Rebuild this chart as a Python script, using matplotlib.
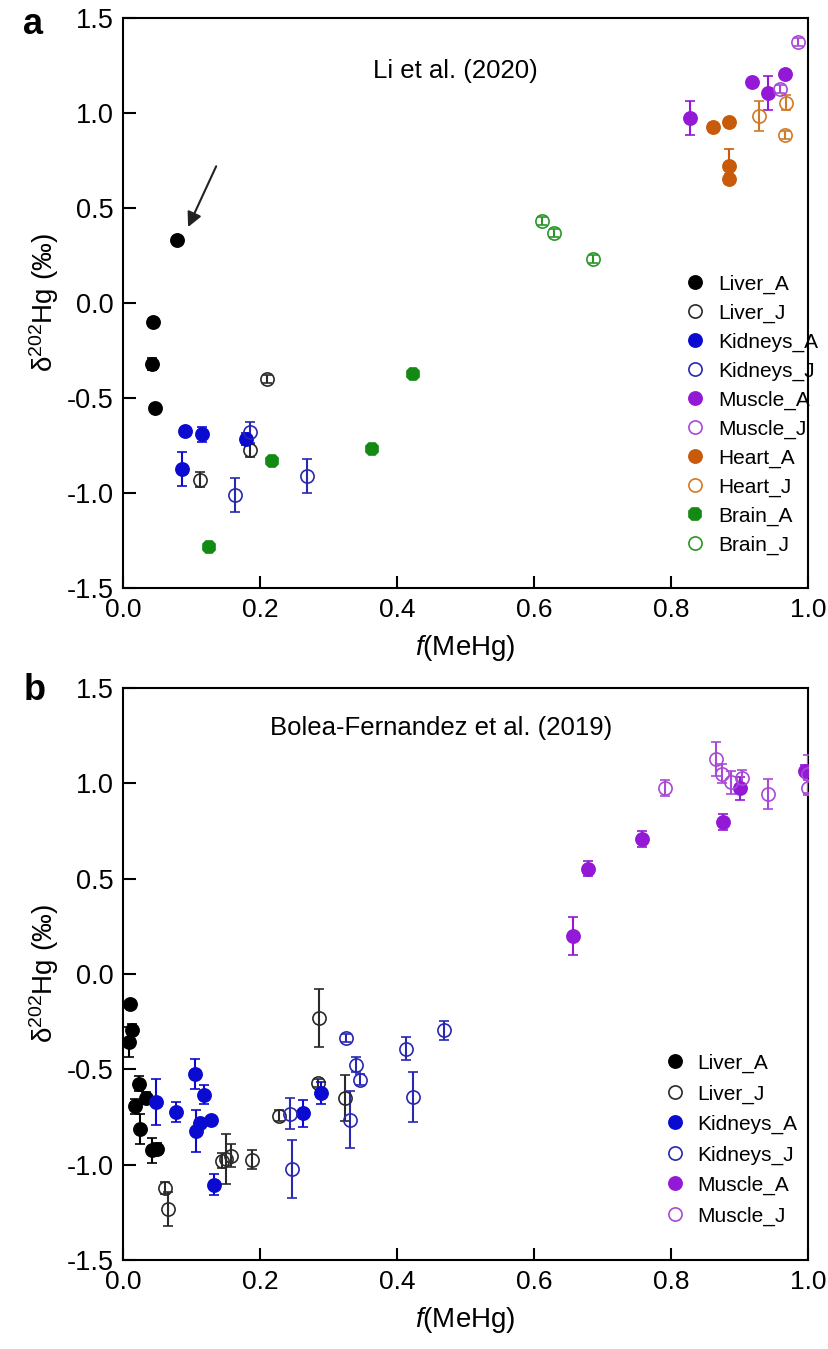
import matplotlib
matplotlib.use("Agg")
import matplotlib.pyplot as plt
from matplotlib.lines import Line2D

plt.rcParams['font.family'] = ['Liberation Sans', 'DejaVu Sans']
plt.rcParams['mathtext.fontset'] = 'custom'
plt.rcParams['mathtext.rm'] = 'Liberation Sans'
plt.rcParams['mathtext.it'] = 'Liberation Sans:italic'
plt.rcParams['axes.unicode_minus'] = False

# =============================================================================
# DATA - panel a, Li et al. (2020)
# =============================================================================
A_LIVER_A_X = [0.079, 0.044, 0.042, 0.047]
A_LIVER_A_Y = [0.33, -0.10, -0.32, -0.55]
A_LIVER_A_E = [0.0, 0.02, 0.03, 0.02]

A_LIVER_J_X = [0.210, 0.186, 0.112]
A_LIVER_J_Y = [-0.40, -0.775, -0.93]
A_LIVER_J_E = [0.02, 0.035, 0.04]

A_KIDNEYS_A_X = [0.090, 0.115, 0.086, 0.180]
A_KIDNEYS_A_Y = [-0.672, -0.69, -0.872, -0.715]
A_KIDNEYS_A_E = [0.0, 0.04, 0.09, 0.03]

A_KIDNEYS_J_X = [0.185, 0.164, 0.269]
A_KIDNEYS_J_Y = [-0.68, -1.012, -0.912]
A_KIDNEYS_J_E = [0.056, 0.09, 0.09]

A_MUSCLE_A_X = [0.827, 0.918, 0.942, 0.967]
A_MUSCLE_A_Y = [0.975, 1.165, 1.104, 1.207]
A_MUSCLE_A_E = [0.09, 0.0, 0.09, 0.0]

A_MUSCLE_J_X = [0.986, 0.959]
A_MUSCLE_J_Y = [1.375, 1.126]
A_MUSCLE_J_E = [0.02, 0.02]

A_HEART_A_X = [0.862, 0.884, 0.884, 0.884]
A_HEART_A_Y = [0.925, 0.954, 0.723, 0.653]
A_HEART_A_E = [0.025, 0.02, 0.09, 0.025]

A_HEART_J_X = [0.929, 0.968, 0.966]
A_HEART_J_Y = [0.984, 1.054, 0.886]
A_HEART_J_E = [0.08, 0.04, 0.02]

A_BRAIN_A_X = [0.125, 0.2175, 0.3635, 0.423]
A_BRAIN_A_Y = [-1.282, -0.83, -0.768, -0.374]
A_BRAIN_A_E = [0.02, 0.02, 0.02, 0.02]

A_BRAIN_J_X = [0.611, 0.629, 0.686]
A_BRAIN_J_Y = [0.432, 0.37, 0.232]
A_BRAIN_J_E = [0.02, 0.02, 0.02]

# arrow pointing at the outlier liver sample (tail, head)
ARROW_TAIL = (0.136, 0.72)
ARROW_HEAD = (0.095, 0.40)

# =============================================================================
# DATA - panel b, Bolea-Fernandez et al. (2019)
# =============================================================================
B_LIVER_A_X = [0.010, 0.013, 0.009, 0.024, 0.033, 0.017, 0.025, 0.042, 0.049]
B_LIVER_A_Y = [-0.156, -0.292, -0.357, -0.575, -0.65, -0.694, -0.813, -0.925, -0.916]
B_LIVER_A_E = [0.0, 0.03, 0.08, 0.04, 0.03, 0.04, 0.08, 0.065, 0.03]

B_LIVER_J_X = [0.061, 0.065, 0.145, 0.151, 0.157, 0.188, 0.228, 0.286, 0.285, 0.324]
B_LIVER_J_Y = [-1.122, -1.232, -0.979, -0.97, -0.953, -0.974, -0.743, -0.231, -0.572, -0.65]
B_LIVER_J_E = [0.03, 0.09, 0.04, 0.13, 0.06, 0.05, 0.03, 0.15, 0.02, 0.12]

B_KIDNEYS_A_X = [0.048, 0.077, 0.105, 0.118, 0.106, 0.112, 0.129, 0.133, 0.263, 0.289]
B_KIDNEYS_A_Y = [-0.673, -0.724, -0.524, -0.633, -0.825, -0.78, -0.764, -1.105, -0.73, -0.624]
B_KIDNEYS_A_E = [0.12, 0.05, 0.08, 0.05, 0.11, 0.0, 0.0, 0.055, 0.07, 0.06]

B_KIDNEYS_J_X = [0.244, 0.247, 0.325, 0.340, 0.346, 0.331, 0.413, 0.423, 0.469]
B_KIDNEYS_J_Y = [-0.733, -1.023, -0.336, -0.476, -0.554, -0.764, -0.393, -0.645, -0.296]
B_KIDNEYS_J_E = [0.08, 0.15, 0.02, 0.04, 0.03, 0.15, 0.06, 0.13, 0.05]

B_MUSCLE_A_X = [0.657, 0.679, 0.758, 0.876, 0.901, 0.995]
B_MUSCLE_A_Y = [0.20, 0.552, 0.708, 0.797, 0.975, 1.066]
B_MUSCLE_A_E = [0.1, 0.04, 0.04, 0.04, 0.06, 0.03]

B_MUSCLE_J_X = [0.791, 0.866, 0.875, 0.887, 0.903, 0.942, 1.0, 1.0]
B_MUSCLE_J_Y = [0.975, 1.127, 1.05, 1.005, 1.028, 0.945, 1.05, 0.977]
B_MUSCLE_J_E = [0.04, 0.09, 0.05, 0.06, 0.04, 0.08, 0.1, 0.04]

# =============================================================================
# STYLE
# =============================================================================
COLORS = {
    'Liver_A': '#000000', 'Liver_J': '#2a2a2a',
    'Kidneys_A': '#0a0ad0', 'Kidneys_J': '#2828b0',
    'Muscle_A': '#9419d6', 'Muscle_J': '#a84ad6',
    'Heart_A': '#c85a0a', 'Heart_J': '#d07a28',
    'Brain_A': '#138a13', 'Brain_J': '#2a962a',
}
MS = 9.5


def marker_style(name):
    c = COLORS[name]
    filled = name.endswith('_A')
    marker = '8' if name == 'Brain_A' else 'o'
    return dict(marker=marker, ms=MS, mfc=c if filled else 'none', mec=c, mew=1.2)


def plot_group(ax, name, xs, ys, es):
    c = COLORS[name]
    ax.errorbar(xs, ys, yerr=es, linestyle='none', **marker_style(name),
                ecolor=c, elinewidth=1.5, capsize=3.5, capthick=1.5, zorder=3)


def add_legend(ax, names, anchor, spacing):
    # legend shows the markers only, no error bars
    handles = [Line2D([], [], linestyle='none', **marker_style(n)) for n in names]
    ax.legend(handles, names, loc='upper left', bbox_to_anchor=anchor,
              frameon=False, fontsize=15, handlelength=1.0, handletextpad=0.6,
              labelspacing=spacing, borderpad=0.2)


def style_axes(ax):
    ax.set_xlim(0, 1.0)
    ax.set_ylim(-1.5, 1.5)
    ax.set_xticks([0.0, 0.2, 0.4, 0.6, 0.8, 1.0])
    ax.set_yticks([-1.5, -1.0, -0.5, 0.0, 0.5, 1.0, 1.5])
    ax.tick_params(direction='in', length=9, width=1.5)
    ax.tick_params(axis='x', labelsize=19, pad=7)
    ax.tick_params(axis='y', labelsize=19.5, pad=7)
    for spine in ax.spines.values():
        spine.set_linewidth(1.5)
    ax.set_xlabel(r'$\mathit{f}$(MeHg)', fontsize=20, labelpad=8)
    ax.set_ylabel(r'δ$^{\mathregular{202}}$Hg (‰)', fontsize=20, labelpad=4)


fig = plt.figure(figsize=(8.29, 13.49), dpi=100)
ax_a = fig.add_axes([0.1484, 0.5641, 0.8263, 0.4225])
ax_b = fig.add_axes([0.1484, 0.0660, 0.8263, 0.4240])

# panel a
plot_group(ax_a, 'Liver_A', A_LIVER_A_X, A_LIVER_A_Y, A_LIVER_A_E)
plot_group(ax_a, 'Liver_J', A_LIVER_J_X, A_LIVER_J_Y, A_LIVER_J_E)
plot_group(ax_a, 'Kidneys_A', A_KIDNEYS_A_X, A_KIDNEYS_A_Y, A_KIDNEYS_A_E)
plot_group(ax_a, 'Kidneys_J', A_KIDNEYS_J_X, A_KIDNEYS_J_Y, A_KIDNEYS_J_E)
plot_group(ax_a, 'Muscle_A', A_MUSCLE_A_X, A_MUSCLE_A_Y, A_MUSCLE_A_E)
plot_group(ax_a, 'Muscle_J', A_MUSCLE_J_X, A_MUSCLE_J_Y, A_MUSCLE_J_E)
plot_group(ax_a, 'Heart_A', A_HEART_A_X, A_HEART_A_Y, A_HEART_A_E)
plot_group(ax_a, 'Heart_J', A_HEART_J_X, A_HEART_J_Y, A_HEART_J_E)
plot_group(ax_a, 'Brain_A', A_BRAIN_A_X, A_BRAIN_A_Y, A_BRAIN_A_E)
plot_group(ax_a, 'Brain_J', A_BRAIN_J_X, A_BRAIN_J_Y, A_BRAIN_J_E)
ax_a.annotate('', xy=ARROW_HEAD, xytext=ARROW_TAIL,
              arrowprops=dict(arrowstyle='-|>', color='#222222', lw=1.5,
                              mutation_scale=22, shrinkA=0, shrinkB=0))
ax_a.text(0.485, 0.908, 'Li et al. (2020)', transform=ax_a.transAxes,
          ha='center', va='center', fontsize=18.5)
style_axes(ax_a)
add_legend(ax_a, ['Liver_A', 'Liver_J', 'Kidneys_A', 'Kidneys_J', 'Muscle_A',
                  'Muscle_J', 'Heart_A', 'Heart_J', 'Brain_A', 'Brain_J'],
           (0.799, 0.576), 0.47)

# panel b
plot_group(ax_b, 'Liver_A', B_LIVER_A_X, B_LIVER_A_Y, B_LIVER_A_E)
plot_group(ax_b, 'Liver_J', B_LIVER_J_X, B_LIVER_J_Y, B_LIVER_J_E)
plot_group(ax_b, 'Kidneys_A', B_KIDNEYS_A_X, B_KIDNEYS_A_Y, B_KIDNEYS_A_E)
plot_group(ax_b, 'Kidneys_J', B_KIDNEYS_J_X, B_KIDNEYS_J_Y, B_KIDNEYS_J_E)
plot_group(ax_b, 'Muscle_A', B_MUSCLE_A_X, B_MUSCLE_A_Y, B_MUSCLE_A_E)
plot_group(ax_b, 'Muscle_J', B_MUSCLE_J_X, B_MUSCLE_J_Y, B_MUSCLE_J_E)
ax_b.text(0.464, 0.93, 'Bolea-Fernandez et al. (2019)', transform=ax_b.transAxes,
          ha='center', va='center', fontsize=18.5)
style_axes(ax_b)
add_legend(ax_b, ['Liver_A', 'Liver_J', 'Kidneys_A', 'Kidneys_J', 'Muscle_A',
                  'Muscle_J'], (0.769, 0.386), 0.54)

fig.text(0.028, 0.9815, 'a', fontsize=26, fontweight='bold', va='center')
fig.text(0.028, 0.488, 'b', fontsize=26, fontweight='bold', va='center')

fig.savefig('out.png', dpi=100)
